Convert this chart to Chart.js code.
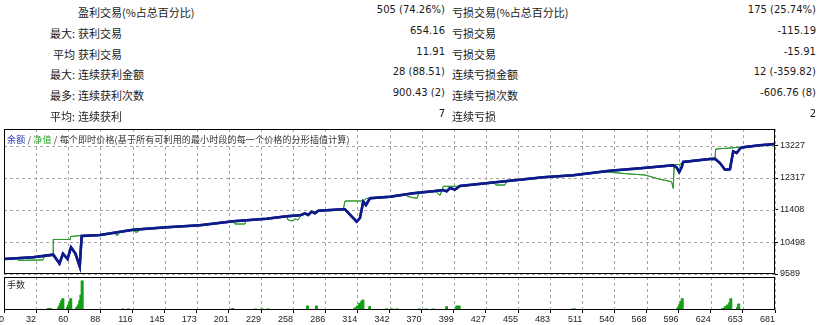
<!DOCTYPE html>
<html>
<head>
<meta charset="utf-8">
<script src="https://cdn.jsdelivr.net/npm/chart.js"></script>
<style>
  body { margin: 0; background: #fff; width: 821px; height: 325px; position: relative; overflow: hidden; }
  .t { position: absolute; white-space: nowrap; line-height: 16px; color: #1a1a1a; z-index: 2; }
  .cn { font: 11px "Noto Sans CJK SC", sans-serif; }
  .num { font: 10px "DejaVu Sans", sans-serif; }
  canvas { position: absolute; left: 0; }
  #legend { position: absolute; left: 7px; top: 133px; font: 9px "Noto Sans CJK SC", sans-serif; color: #333; line-height: 14px; z-index: 2; white-space: nowrap; letter-spacing: 0.15px; }
  #lots { position: absolute; left: 7px; top: 278px; font: 9px "Noto Sans CJK SC", sans-serif; color: #333; line-height: 14px; z-index: 2; }
</style>
</head>
<body>
<div id="legend"><span style="color:#2b3bb8">余额</span> / <span style="color:#22a822">净值</span> / 每个即时价格(基于所有可利用的最小时段的每一个价格的分形插值计算)</div>
<div id="lots">手数</div>
<canvas id="main" width="821" height="162" style="top:120px"></canvas>
<canvas id="vol" width="821" height="55" style="top:270px"></canvas>
<script>
// stats table
const rowPrefix = ["", "最大:", "平均", "最大:", "最多:", "平均:"];
const winLabels = ["盈利交易(%占总百分比)", "获利交易", "获利交易", "连续获利金额", "连续获利次数", "连续获利"];
const winValues = ["505 (74.26%)", "654.16", "11.91", "28 (88.51)", "900.43 (2)", "7"];
const lossLabels = ["亏损交易(%占总百分比)", "亏损交易", "亏损交易", "连续亏损金额", "连续亏损次数", "连续亏损"];
const lossValues = ["175 (25.74%)", "-115.19", "-15.91", "12 (-359.82)", "-606.76 (8)", "2"];

// chart data (x = trade number)
const xTickLabels = ["0", "32", "60", "88", "116", "145", "173", "201", "229", "258", "286", "314", "342", "370", "399", "427", "455", "483", "511", "540", "568", "596", "624", "653", "681"];
const xMax = 681;
const yTickValues = [9589, 10498, 11408, 12317, 13227];
const yMin = 9589, yMax = 13710;

const balanceIdx = [0, 25.6, 43.5, 49, 52.1, 56.1, 59.2, 63.1, 66.9, 68.6, 84.8, 114.2, 143.7, 173.1, 202.5, 232, 249.7, 261.4, 265.8, 268.7, 271.7, 274.7, 277.6, 299.7, 301.2, 311.5, 314.4, 317.3, 319.7, 323.2, 340.9, 361.5, 378.9, 388, 391, 393.9, 398.3, 402.7, 446.9, 476.3, 502.8, 535.2, 564.6, 591.1, 594.1, 596.4, 598.5, 599.9, 623.5, 628, 632.4, 636.8, 641.2, 644.1, 647.1, 650.6, 652.9, 667.7, 681];
const balanceValue = [10015, 10064, 10138, 9887, 10166, 10015, 10348, 10172, 9802, 10670, 10700, 10848, 10916, 10973, 11087, 11161, 11229, 11257, 11314, 11266, 11360, 11314, 11388, 11428, 11422, 11075, 11181, 11644, 11550, 11740, 11786, 11882, 11939, 11976, 11939, 12033, 11985, 12090, 12241, 12337, 12394, 12525, 12602, 12678, 12621, 12488, 12621, 12772, 12857, 12866, 12744, 12553, 12565, 13076, 13028, 13170, 13190, 13247, 13284];

const equityIdx = [0, 11.5, 12.6, 34.4, 35.3, 43.3, 43.5, 58.3, 58.7, 68.6, 84.8, 97.1, 98.9, 100.7, 101.6, 114.8, 115.7, 118.3, 119.2, 143.7, 173.1, 202.5, 204, 212.8, 213.7, 232, 249.7, 250.8, 254.3, 257, 259.7, 261.4, 263, 277.6, 299.7, 301.2, 317.3, 319.7, 323.2, 340.9, 354.1, 356.8, 364.7, 366.5, 378.9, 380.7, 385.2, 388, 400.1, 402.7, 431.8, 434.5, 442.4, 444.2, 476.3, 502.8, 529.3, 535.2, 552.9, 566.1, 579.4, 589.7, 591.1, 592, 597, 599.9, 623.5, 628, 628.6, 650, 652.9, 667.7, 681];
const equityValue = [10015, 10044, 9978, 9987, 10072, 10129, 10570, 10570, 10655, 10683, 10700, 10774, 10697, 10697, 10774, 10850, 10783, 10783, 10859, 10916, 10973, 11087, 11010, 11010, 11112, 11161, 11229, 11124, 11095, 11152, 11124, 11209, 11257, 11388, 11428, 11664, 11664, 11735, 11740, 11786, 11848, 11792, 11735, 11891, 11939, 11947, 11825, 12081, 12081, 12090, 12204, 12118, 12118, 12232, 12337, 12394, 12508, 12480, 12431, 12403, 12280, 12212, 12025, 12701, 12701, 12772, 12857, 12866, 13141, 13190, 13190, 13247, 13284];

const lotIdx = [39, 41, 48, 49, 50, 51, 52, 56, 57, 58, 59, 64, 65, 66, 67, 68, 69, 105, 110, 202, 222, 228, 233, 268, 276, 310, 312, 314, 316, 317, 323, 338, 343, 347, 367, 373, 379, 391, 400, 402, 447, 453, 457, 460, 465, 502, 504, 595, 596, 597, 598, 599, 606, 610, 635, 637, 639, 641, 642, 648, 649, 666];
const lotValue = [0.05, 0.05, 0.06, 0.12, 0.2, 0.28, 0.34, 0.08, 0.15, 0.25, 0.34, 0.06, 0.1, 0.16, 0.28, 0.45, 0.88, 0.03, 0.03, 0.05, 0.03, 0.03, 0.03, 0.12, 0.12, 0.06, 0.12, 0.2, 0.26, 0.3, 0.1, 0.03, 0.03, 0.03, 0.03, 0.03, 0.03, 0.1, 0.12, 0.12, 0.02, 0.02, 0.02, 0.02, 0.02, 0.03, 0.03, 0.05, 0.1, 0.18, 0.26, 0.34, 0.02, 0.02, 0.05, 0.1, 0.15, 0.22, 0.34, 0.08, 0.18, 0.02];

// build the table
function addText(cls, text, top, left, right) {
  const d = document.createElement("div");
  d.className = "t " + cls;
  d.textContent = text;
  d.style.top = top + "px";
  if (left != null) d.style.left = left + "px";
  if (right != null) { d.style.right = right + "px"; d.style.textAlign = "right"; }
  document.body.appendChild(d);
}
rowPrefix.forEach((p, i) => {
  const top = 4 + i * 20.8;
  if (p) addText("cn", p, top, null, 821 - 75);
  addText("cn", winLabels[i], top, 78, null);
  addText("num", winValues[i], top, null, 821 - 445);
  addText("cn", lossLabels[i], top, 452, null);
  addText("num", lossValues[i], top, null, 5);
});

// after drawing: dashed grid, the datasets drawn again over it, then the black frame
const panelBox = {
  id: "panelBox",
  afterDraw(chart) {
    const { ctx, chartArea: a, scales } = chart;
    ctx.save();
    ctx.strokeStyle = "#a4a4a4";
    ctx.lineWidth = 1;
    ctx.setLineDash([3, 3]);
    scales.x.ticks.forEach((t) => {
      const px = Math.round(scales.x.getPixelForValue(t.value)) + 0.5;
      ctx.beginPath(); ctx.moveTo(px, a.top); ctx.lineTo(px, a.bottom); ctx.stroke();
    });
    if (scales.y.options.ticks.display) {
      scales.y.ticks.forEach((t) => {
        const py = Math.round(scales.y.getPixelForValue(t.value)) + 0.5;
        ctx.beginPath(); ctx.moveTo(a.left, py); ctx.lineTo(a.right, py); ctx.stroke();
      });
    }
    ctx.restore();

    ctx.save();
    ctx.beginPath();
    ctx.rect(a.left, a.top, a.right - a.left, a.bottom - a.top);
    ctx.clip();
    const metas = chart.getSortedVisibleDatasetMetas();
    for (let i = metas.length - 1; i >= 0; i--) metas[i].controller.draw();
    ctx.restore();

    ctx.save();
    ctx.strokeStyle = "#000";
    ctx.lineWidth = 1;
    ctx.strokeRect(Math.round(a.left) + 0.5, Math.round(a.top) + 0.5, Math.round(a.right - a.left) - 1, Math.round(a.bottom - a.top) - 1);
    ctx.restore();
  }
};

const axisFont = { family: "Liberation Sans", size: 9 };
const setXTicks = (s) => { s.ticks = xTickLabels.map((l, i) => ({ value: i * xMax / (xTickLabels.length - 1) })); };

new Chart(document.getElementById("main"), {
  type: "line",
  data: {
    datasets: [
      {
        label: "余额",
        data: balanceIdx.map((x, i) => ({ x: x, y: balanceValue[i] })),
        borderColor: "#0c1a8a",
        borderWidth: 2.5,
        pointRadius: 0,
        tension: 0
      },
      {
        label: "净值",
        data: equityIdx.map((x, i) => ({ x: x, y: equityValue[i] })),
        borderColor: "#2b9a2b",
        borderWidth: 1,
        pointRadius: 0,
        tension: 0
      }
    ]
  },
  options: {
    responsive: false,
    animation: false,
    layout: { padding: { left: 4, top: 9, right: 0, bottom: 8 } },
    plugins: { legend: { display: false }, tooltip: { enabled: false } },
    scales: {
      x: {
        type: "linear", min: 0, max: xMax,
        afterBuildTicks: setXTicks,
        ticks: { display: false },
        grid: { drawOnChartArea: false, drawTicks: false },
        border: { display: false }
      },
      y: {
        position: "right", min: yMin, max: yMax,
        afterBuildTicks: (s) => { s.ticks = yTickValues.map((v) => ({ value: v })); },
        afterFit: (s) => { s.width = 46; s.paddingTop = 0; s.paddingBottom = 0; },
        ticks: { font: axisFont, color: "#222", padding: 2, callback: (v) => String(v) },
        grid: { drawOnChartArea: false, tickColor: "#000", tickLength: 3 },
        border: { display: false }
      }
    }
  },
  plugins: [panelBox]
});

new Chart(document.getElementById("vol"), {
  type: "bar",
  data: {
    datasets: [{
      label: "手数",
      data: lotIdx.map((x, i) => ({ x: x, y: lotValue[i] })),
      backgroundColor: "#14a014",
      barThickness: 2
    }]
  },
  options: {
    responsive: false,
    animation: false,
    layout: { padding: { left: 4, top: 7, right: 0, bottom: 0 } },
    plugins: { legend: { display: false }, tooltip: { enabled: false } },
    scales: {
      x: {
        type: "linear", min: 0, max: xMax, offset: false,
        afterBuildTicks: setXTicks,
        afterFit: (s) => { s.height = 15; s.paddingLeft = 0; s.paddingRight = 0; },
        ticks: { align: "end", font: axisFont, color: "#222", padding: 1, maxRotation: 0, autoSkip: false, callback: (v, i) => xTickLabels[i] },
        grid: { drawOnChartArea: false, tickColor: "#000", tickLength: 3, offset: false },
        border: { display: false }
      },
      y: {
        min: 0, max: 1, position: "right",
        afterFit: (s) => { s.width = 46; },
        ticks: { display: false },
        grid: { display: false },
        border: { display: false }
      }
    }
  },
  plugins: [panelBox]
});
</script>
</body>
</html>
